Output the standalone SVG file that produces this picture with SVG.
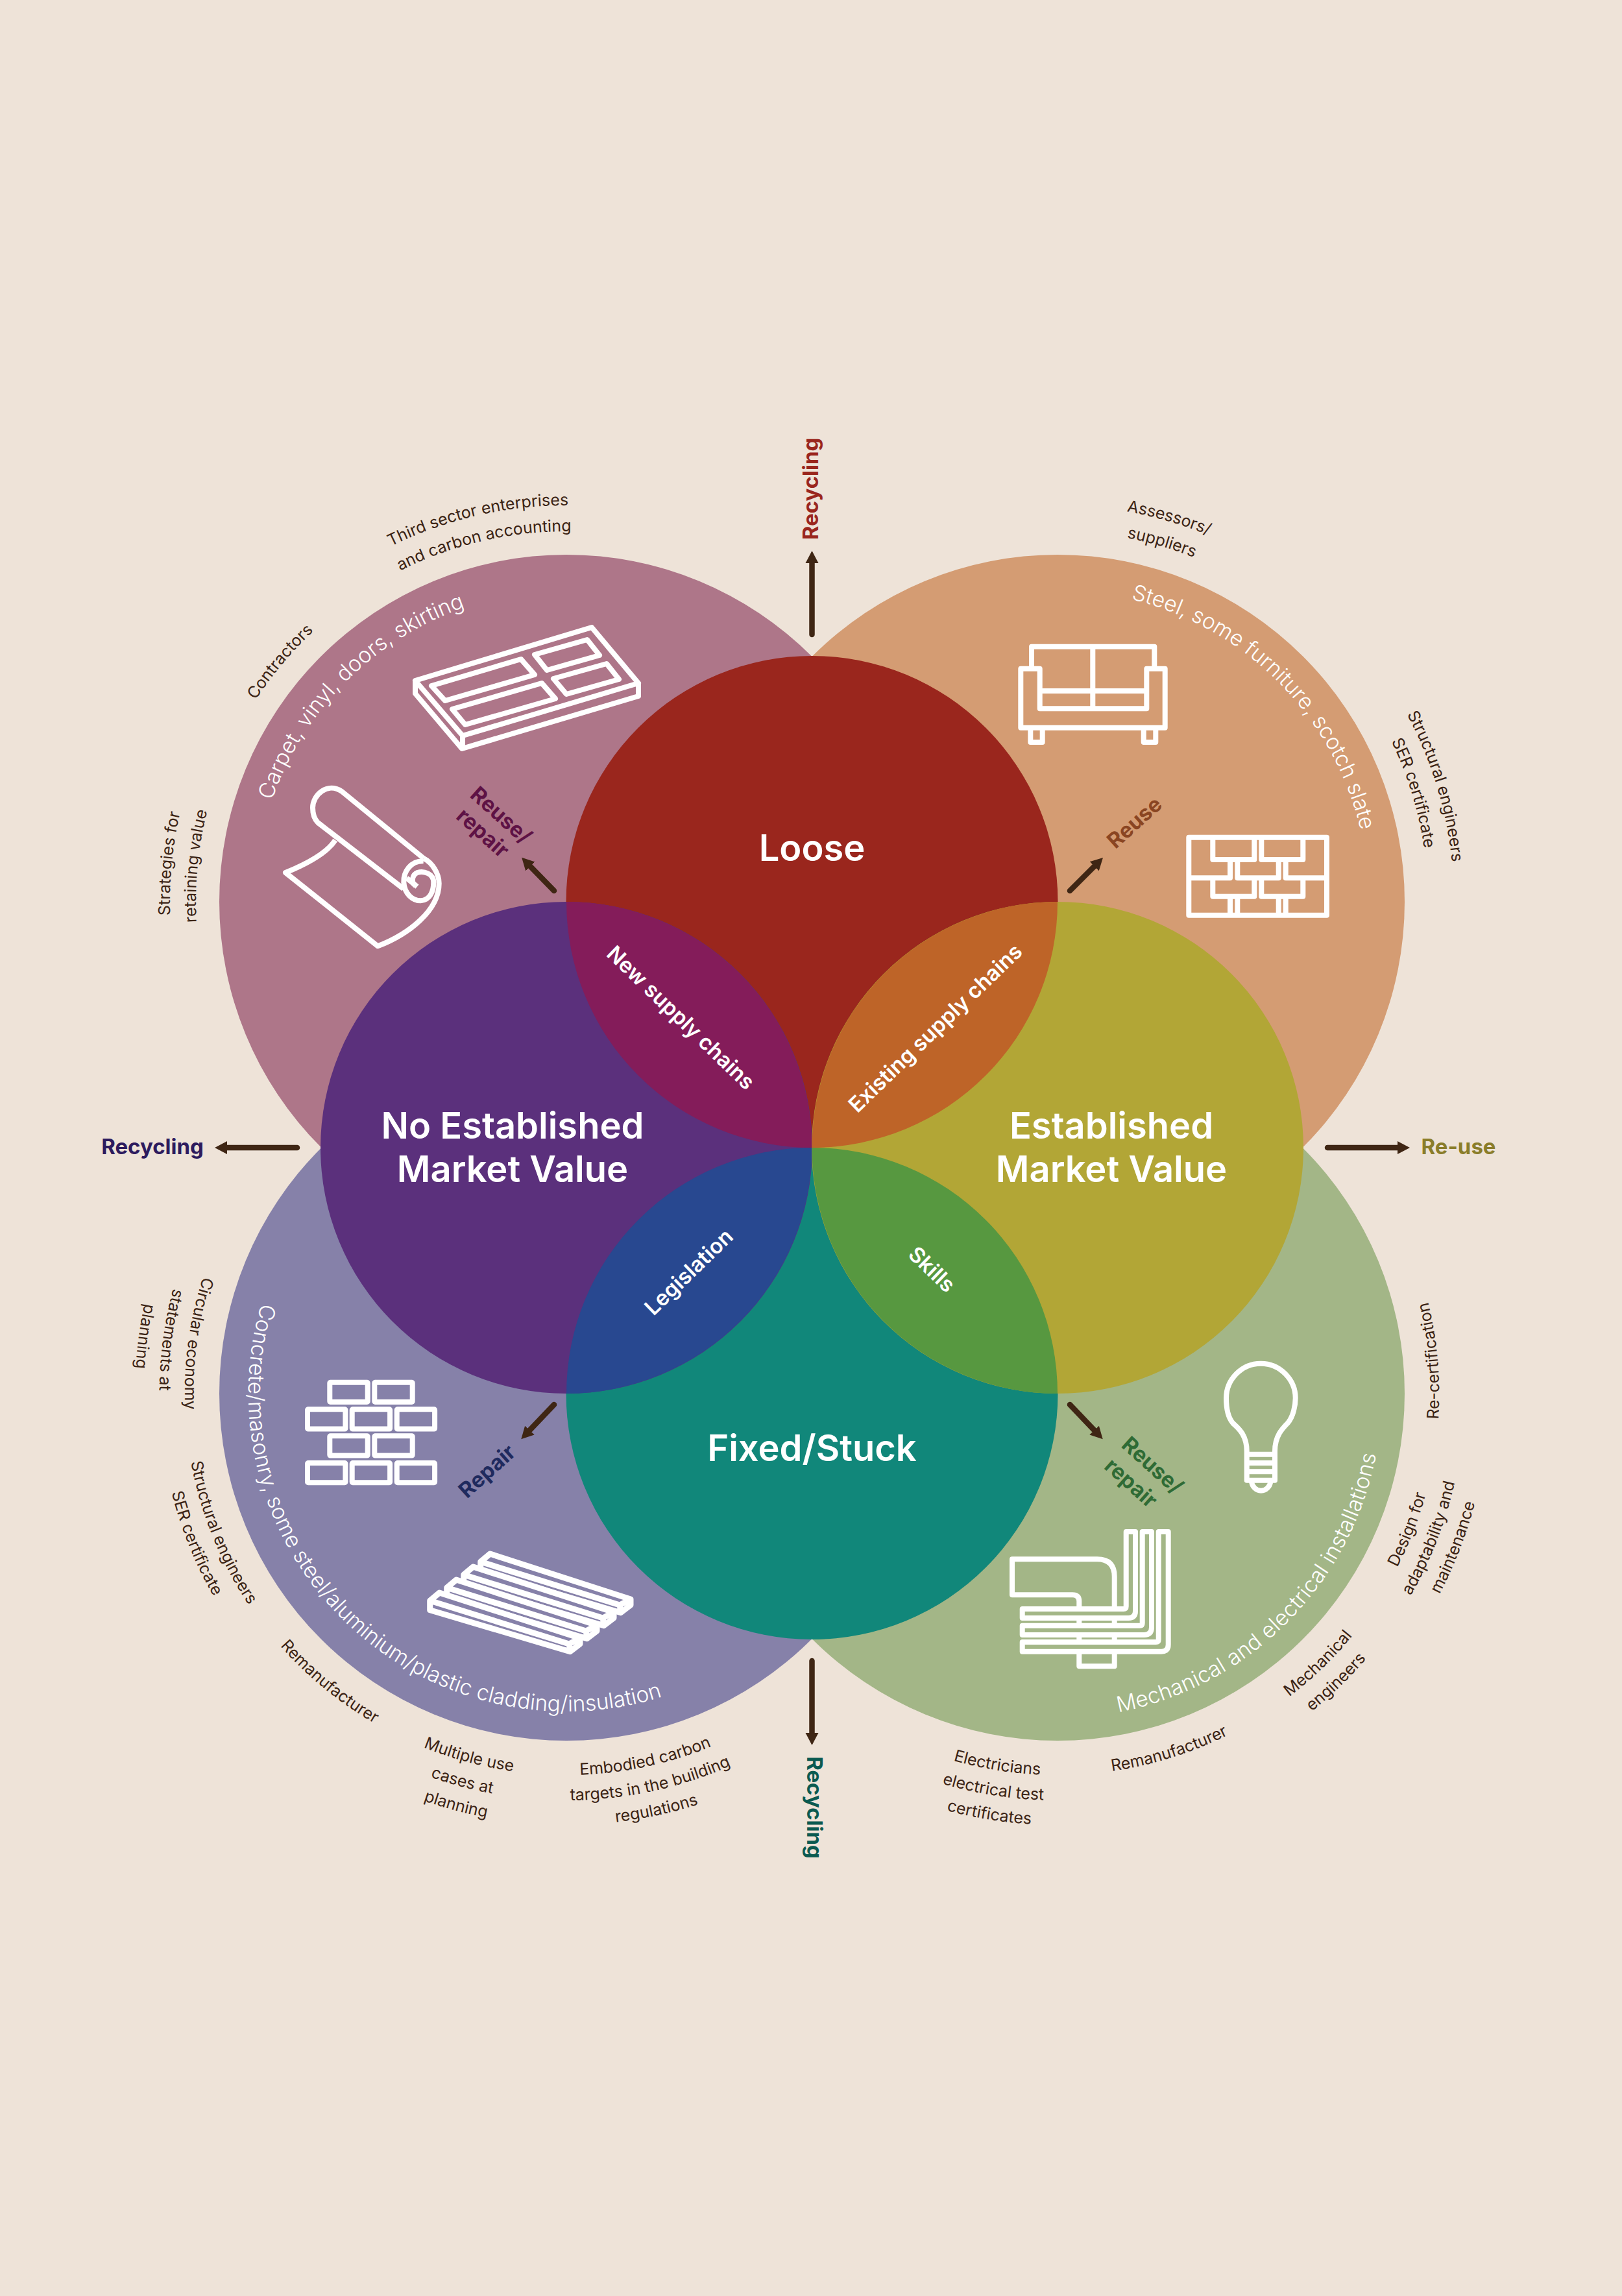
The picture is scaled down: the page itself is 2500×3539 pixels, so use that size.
<svg xmlns="http://www.w3.org/2000/svg" xmlns:xlink="http://www.w3.org/1999/xlink" width="2500" height="3539" viewBox="0 0 2500 3539">
<style>
text{font-family:Inter,"Noto Sans","Liberation Sans",sans-serif}
.s{font-size:25px;fill:#3B2314;text-anchor:middle}
.a{font-size:33.5px;font-weight:300;fill:#fff;text-anchor:middle}
.m{font-size:56px;font-weight:600;fill:#fff;text-anchor:middle}
.o{font-size:33px;font-weight:600;fill:#fff;text-anchor:middle}
.r{font-size:33px;font-weight:700;text-anchor:middle}
.i{fill:none;stroke:#fff;stroke-width:8;stroke-linejoin:round;stroke-linecap:butt}
.c{stroke:#3F2614;stroke-width:8.5;stroke-linecap:round;fill:none;marker-end:url(#arrow)}
</style>
<defs>
<marker id="arrow" markerUnits="userSpaceOnUse" markerWidth="20" markerHeight="22" viewBox="0 0 20 22" refX="2" refY="11" orient="auto"><path d="M0,1 L19,11 L0,21 Z" fill="#3F2614"/></marker>
<path id="tl480" d="M873,1870 A480,480 0 1 1 873,910 A480,480 0 1 1 873,1870"/>
<path id="tl611" d="M873,2001 A611,611 0 1 1 873,779 A611,611 0 1 1 873,2001"/>
<path id="tl571" d="M873,1961 A571,571 0 1 1 873,819 A571,571 0 1 1 873,1961"/>
<path id="tr480" d="M1630,1870 A480,480 0 1 1 1630,910 A480,480 0 1 1 1630,1870"/>
<path id="tr611" d="M1630,2001 A611,611 0 1 1 1630,779 A611,611 0 1 1 1630,2001"/>
<path id="tr571" d="M1630,1961 A571,571 0 1 1 1630,819 A571,571 0 1 1 1630,1961"/>
<path id="bl490" d="M873,1658 A490,490 0 1 0 873,2638 A490,490 0 1 0 873,1658"/>
<path id="bl588" d="M873,1560 A588,588 0 1 0 873,2736 A588,588 0 1 0 873,1560"/>
<path id="bl627" d="M873,1521 A627,627 0 1 0 873,2775 A627,627 0 1 0 873,1521"/>
<path id="bl665" d="M873,1483 A665,665 0 1 0 873,2813 A665,665 0 1 0 873,1483"/>
<path id="br500" d="M1630,1648 A500,500 0 1 0 1630,2648 A500,500 0 1 0 1630,1648"/>
<path id="br588" d="M1630,1560 A588,588 0 1 0 1630,2736 A588,588 0 1 0 1630,1560"/>
<path id="br627" d="M1630,1521 A627,627 0 1 0 1630,2775 A627,627 0 1 0 1630,1521"/>
<path id="br665" d="M1630,1483 A665,665 0 1 0 1630,2813 A665,665 0 1 0 1630,1483"/>
<path id="beam" d="M662.7,2467.3 L677.3,2455 L894,2525 V2534 L878.7,2545.7 L662.7,2481.7 Z M662.7,2467.3 L877.3,2534 L894,2525 M877.3,2534 L878.7,2545.7" fill="#8681A9" stroke="#fff" stroke-width="9" stroke-linejoin="round"/>
<rect id="brick" width="58.4" height="30.3" rx="1" fill="none" stroke="#fff" stroke-width="8" stroke-linejoin="round"/>
</defs>
<rect width="2500" height="3539" fill="#EEE3D8"/>

<g id="ring-top-left">
<circle cx="873" cy="1390" r="535" fill="#AE7689"/>
<text class="a"><textPath xlink:href="#tl480" href="#tl480" startOffset="37.5%">Carpet, vinyl, doors, skirting</textPath></text>
<text class="s"><textPath xlink:href="#tl611" href="#tl611" startOffset="46.39%">Third sector enterprises</textPath></text>
<text class="s"><textPath xlink:href="#tl571" href="#tl571" startOffset="46.4%">and carbon accounting</textPath></text>
<text class="s"><textPath xlink:href="#tl571" href="#tl571" startOffset="36.11%">Contractors</textPath></text>
<text class="s"><textPath xlink:href="#tl611" href="#tl611" startOffset="26.53%">Strategies for</textPath></text>
<text class="s"><textPath xlink:href="#tl571" href="#tl571" startOffset="26.53%">retaining value</textPath></text>
</g>
<g id="ring-top-right">
<circle cx="1630" cy="1390" r="535" fill="#D49C73"/>
<text class="a"><textPath xlink:href="#tr480" href="#tr480" startOffset="62.56%">Steel, some furniture, scotch slate</textPath></text>
<text class="s"><textPath xlink:href="#tr611" href="#tr611" startOffset="54.5%">Assessors/</textPath></text>
<text class="s"><textPath xlink:href="#tr571" href="#tr571" startOffset="54.5%">suppliers</textPath></text>
<text class="s"><textPath xlink:href="#tr611" href="#tr611" startOffset="70.28%">Structural engineers</textPath></text>
<text class="s"><textPath xlink:href="#tr571" href="#tr571" startOffset="70.28%">SER certificate</textPath></text>
</g>
<g id="ring-bottom-left">
<circle cx="873" cy="2148" r="535" fill="#8681A9"/>
<text class="a"><textPath xlink:href="#bl490" href="#bl490" startOffset="37.64%">Concrete/masonry, some steel/aluminium/plastic cladding/insulation</textPath></text>
<text class="s"><textPath xlink:href="#bl588" href="#bl588" startOffset="22.86%">Circular economy</textPath></text>
<text class="s"><textPath xlink:href="#bl627" href="#bl627" startOffset="22.86%">statements at</textPath></text>
<text class="s"><textPath xlink:href="#bl665" href="#bl665" startOffset="22.86%">planning</textPath></text>
<text class="s"><textPath xlink:href="#bl588" href="#bl588" startOffset="31.11%">Structural engineers</textPath></text>
<text class="s"><textPath xlink:href="#bl627" href="#bl627" startOffset="31.11%">SER certificate</textPath></text>
<text class="s"><textPath xlink:href="#bl588" href="#bl588" startOffset="39.06%">Remanufacturer</textPath></text>
<text class="s"><textPath xlink:href="#bl588" href="#bl588" startOffset="45.83%">Multiple use</textPath></text>
<text class="s"><textPath xlink:href="#bl627" href="#bl627" startOffset="45.83%">cases at</textPath></text>
<text class="s"><textPath xlink:href="#bl665" href="#bl665" startOffset="45.83%">planning</textPath></text>
<text class="s"><textPath xlink:href="#bl588" href="#bl588" startOffset="53.39%">Embodied carbon</textPath></text>
<text class="s"><textPath xlink:href="#bl627" href="#bl627" startOffset="53.39%">targets in the building</textPath></text>
<text class="s"><textPath xlink:href="#bl665" href="#bl665" startOffset="53.39%">regulations</textPath></text>
</g>
<g id="ring-bottom-right">
<circle cx="1630" cy="2148" r="535" fill="#A3B687"/>
<text class="a" letter-spacing="0.2"><textPath xlink:href="#br500" href="#br500" startOffset="62.5%">Mechanical and electrical installations</textPath></text>
<text class="s"><textPath xlink:href="#br588" href="#br588" startOffset="76.39%">Re-certification</textPath></text>
<text class="s"><textPath xlink:href="#br588" href="#br588" startOffset="69.11%">Design for</textPath></text>
<text class="s"><textPath xlink:href="#br627" href="#br627" startOffset="69.11%">adaptability and</textPath></text>
<text class="s"><textPath xlink:href="#br665" href="#br665" startOffset="69.11%">maintenance</textPath></text>
<text class="s"><textPath xlink:href="#br588" href="#br588" startOffset="62.22%">Mechanical</textPath></text>
<text class="s"><textPath xlink:href="#br627" href="#br627" startOffset="62.22%">engineers</textPath></text>
<text class="s"><textPath xlink:href="#br588" href="#br588" startOffset="54.83%">Remanufacturer</textPath></text>
<text class="s"><textPath xlink:href="#br588" href="#br588" startOffset="47.44%">Electricians</textPath></text>
<text class="s"><textPath xlink:href="#br627" href="#br627" startOffset="47.44%">electrical test</textPath></text>
<text class="s"><textPath xlink:href="#br665" href="#br665" startOffset="47.44%">certificates</textPath></text>
</g>

<g id="loose"><circle cx="1251.5" cy="1390" r="379" fill="#9A261D"/><text class="m" x="1251.5" y="1327">Loose</text></g>
<g id="fixed-stuck"><circle cx="1251.5" cy="2148" r="379" fill="#11877A"/><text class="m" x="1251.5" y="2252">Fixed/Stuck</text></g>
<g id="no-established-market-value"><circle cx="873" cy="1769" r="379" fill="#5B307C"/><text class="m" x="790" y="1755">No Established</text><text class="m" x="790" y="1822">Market Value</text></g>
<g id="established-market-value"><circle cx="1630" cy="1769" r="379" fill="#B2A636"/><text class="m" x="1713" y="1755">Established</text><text class="m" x="1713" y="1822">Market Value</text></g>

<g id="new-supply-chains"><path d="M873,1390 A379,379 0 0 1 1251.5,1769 A379,379 0 0 1 873,1390 Z" fill="#841C5A"/><text class="o" transform="translate(1049 1569) rotate(44)" y="11">New supply chains</text></g>
<g id="existing-supply-chains"><path d="M1630,1390 A379,379 0 0 1 1251.5,1769 A379,379 0 0 1 1630,1390 Z" fill="#BE6428"/><text class="o" transform="translate(1442 1585) rotate(-44)" y="11">Existing supply chains</text></g>
<g id="legislation"><path d="M1251.5,1769 A379,379 0 0 1 873,2148 A379,379 0 0 1 1251.5,1769 Z" fill="#284890"/><text class="o" transform="translate(1062 1961) rotate(-44)" y="11">Legislation</text></g>
<g id="skills"><path d="M1251.5,1769 A379,379 0 0 1 1630,2148 A379,379 0 0 1 1251.5,1769 Z" fill="#579840"/><text class="o" transform="translate(1436 1957) rotate(44)" y="11">Skills</text></g>

<g id="connectors">
<line class="c" x1="1251.5" y1="978" x2="1251.5" y2="866"/>
<line class="c" x1="458" y1="1769" x2="348" y2="1769"/>
<line class="c" x1="2046" y1="1769" x2="2156" y2="1769"/>
<line class="c" x1="1251.5" y1="2560" x2="1251.5" y2="2673"/>
<line class="c" x1="854" y1="1373" x2="816" y2="1334"/>
<line class="c" x1="1649" y1="1373" x2="1688" y2="1334"/>
<line class="c" x1="854" y1="2165" x2="815" y2="2206"/>
<line class="c" x1="1649" y1="2165" x2="1688" y2="2206"/>
</g>

<g id="label-recycling-top"><text class="r" transform="translate(1261 753.5) rotate(-90)" fill="#9A261D">Recycling</text></g>
<g id="label-recycling-left"><text class="r" x="235" y="1779" fill="#2D1B5E">Recycling</text></g>
<g id="label-re-use"><text class="r" x="2248" y="1779" fill="#8A7D2A">Re-use</text></g>
<g id="label-recycling-bottom"><text class="r" transform="translate(1244 2786) rotate(90)" fill="#0A5A50">Recycling</text></g>
<g id="label-reuse-repair-tl"><text class="r" transform="translate(772 1257) rotate(42)" y="11" fill="#5E1245">Reuse/</text><text class="r" transform="translate(744 1284) rotate(42)" y="11" fill="#5E1245">repair</text></g>
<g id="label-reuse-tr"><text class="r" transform="translate(1749 1268) rotate(-42)" y="11" fill="#8A4522">Reuse</text></g>
<g id="label-repair-bl"><text class="r" transform="translate(751 2268) rotate(-42)" y="11" fill="#1F2A5E">Repair</text></g>
<g id="label-reuse-repair-br"><text class="r" transform="translate(1776 2259) rotate(42)" y="11" fill="#2F6B35">Reuse/</text><text class="r" transform="translate(1743 2286) rotate(42)" y="11" fill="#2F6B35">repair</text></g>

<g id="icon-panel" class="i">
<path d="M640,1049 L912,967 L984,1053 L713,1134 Z M640,1049 V1069 L712,1154 L984,1073 V1053 M713,1134 V1154"/>
<path d="M665,1057 L803,1016 L824,1040 L686,1080 Z"/>
<path d="M697,1093 L835,1053 L856,1077 L717,1117 Z"/>
<path d="M824,1009 L905,986 L924,1010 L843,1033 Z"/>
<path d="M853,1046 L935,1023 L954,1047 L873,1070 Z"/>
</g>
<g id="icon-roll" class="i">
<path d="M653,1323 L527,1220 C505,1205 482,1225 482,1245 C482,1255 484,1262 490,1268 L622,1370"/>
<path d="M516.7,1295 C505,1313.3 476.7,1330 440,1345 L582.3,1458.3 C630,1440 676.7,1403.3 676.7,1361.7 C676.7,1346.7 666.7,1330 653,1323"/>
<path d="M652.7,1327.3 C633.3,1326.7 621.7,1343.3 622.3,1360 C623.3,1378.3 636.7,1388.3 648.3,1388.3 C663.3,1387.3 668.3,1373.3 668.3,1360 C668.3,1346.7 653.3,1341.7 643.3,1345 C635,1348.3 633.3,1360 640,1365"/>
<path d="M626.7,1353.3 L643,1366.7"/>
</g>
<g id="icon-sofa" class="i">
<path d="M1590,1030 V996.7 H1779.3 V1030"/>
<path d="M1684.3,996.7 V1091.7"/>
<path d="M1573.3,1030.7 H1602.7 V1092.3 H1767.3 V1030.7 H1795.7 V1121.7 H1573.3 Z"/>
<path d="M1602.7,1065 H1767.3"/>
<path d="M1588.3,1122 V1144 H1606.7 V1122 M1762.7,1122 V1144 H1781.3 V1122"/>
</g>
<g id="icon-wall" class="i">
<path d="M1832.3,1290.7 H2045 V1410.7 H1832.3 Z"/>
<path d="M1869.3,1290.7 V1325 H1933.3 V1290.7 M1944.3,1290.7 V1325 H2008.3 V1290.7"/>
<path d="M1832.3,1353.3 H1896 V1325 M1907.3,1325 V1353.3 H1970.7 V1325 M1981.7,1325 V1353.3 H2045"/>
<path d="M1869.3,1353.3 V1381.7 H1933.3 V1353.3 M1944.3,1353.3 V1381.7 H2008.3 V1353.3"/>
<path d="M1896,1381.7 V1410.7 M1907.3,1381.7 V1410.7 M1970.7,1381.7 V1410.7 M1981.7,1381.7 V1410.7"/>
</g>
<g id="icon-bricks">
<use href="#brick" x="508.3" y="2130.7"/><use href="#brick" x="577.3" y="2130.7"/>
<use href="#brick" x="474" y="2172.3"/><use href="#brick" x="542.7" y="2172.3"/><use href="#brick" x="611.7" y="2172.3"/>
<use href="#brick" x="508.3" y="2213.3"/><use href="#brick" x="577.3" y="2213.3"/>
<use href="#brick" x="474" y="2255"/><use href="#brick" x="542.7" y="2255"/><use href="#brick" x="611.7" y="2255"/>
</g>
<g id="icon-beams">
<use href="#beam" x="78" y="-60"/><use href="#beam" x="52" y="-40"/><use href="#beam" x="26" y="-20"/><use href="#beam"/>
</g>
<g id="icon-pipes" class="i">
<path d="M1717.7,2568.3 H1663.3 V2468 Q1663.3,2458.3 1653,2458.3 H1560 V2403.3 H1691 Q1717.7,2403.3 1717.7,2430 Z"/>
<path fill="#A3B687" d="M1575.7,2480 H1731.7 Q1735.7,2480 1735.7,2476 V2361 H1750 V2483.3 Q1750,2494 1739.3,2494 H1575.7 Z"/>
<path fill="#A3B687" d="M1575.7,2505.7 H1756.7 Q1760.7,2505.7 1760.7,2501.7 V2361 H1775 V2508.3 Q1775,2520 1763.3,2520 H1575.7 Z"/>
<path fill="#A3B687" d="M1575.7,2531 H1781.7 Q1785.7,2531 1785.7,2527 V2361 H1800.7 V2535 Q1800.7,2545.7 1790,2545.7 H1575.7 Z"/>
</g>
<g id="icon-bulb" class="i">
<path d="M1921.7,2281.7 V2236.7 C1921.7,2210 1906.7,2200 1900,2193.3 C1891.7,2183.3 1890,2166.7 1890,2155 C1890,2126.7 1913.3,2101.7 1943.3,2101.7 C1973.3,2101.7 1996.7,2126.7 1996.7,2155 C1996.7,2166.7 1993.3,2183.3 1985,2193.3 C1976.7,2201.7 1965,2213.3 1965,2236.7 V2281.7 Z"/>
<path d="M1921.7,2241.7 H1965 M1921.7,2255 H1965 M1921.7,2268.3 H1965"/>
<path d="M1929,2283 A14.7,16 0 0 0 1958.3,2283"/>
</g>
</svg>
